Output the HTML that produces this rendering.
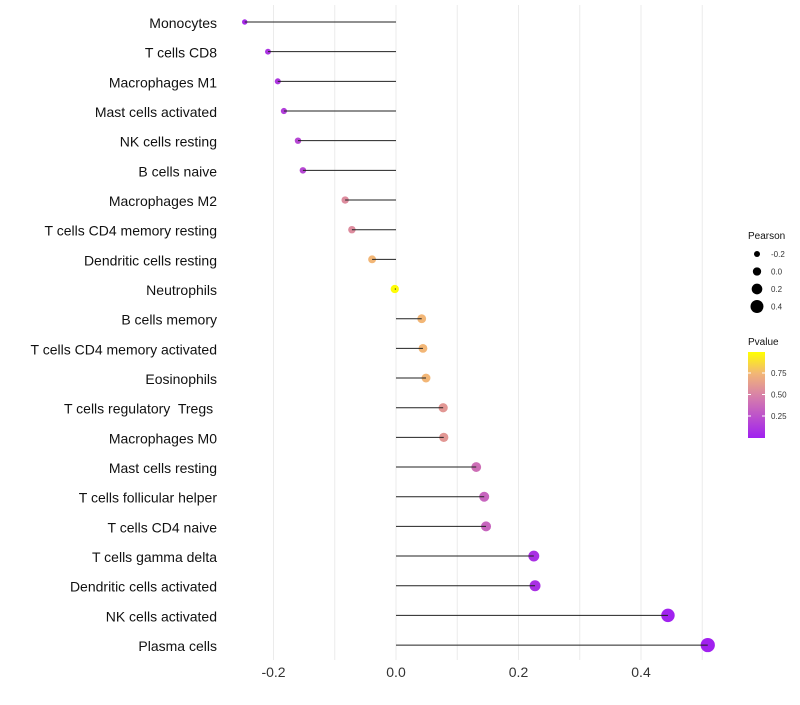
<!DOCTYPE html>
<html><head><meta charset="utf-8"><style>
body{margin:0;background:#fff;font-family:"Liberation Sans",sans-serif}
text{white-space:pre}
</style></head><body>
<svg id="chart" width="800" height="700" xmlns="http://www.w3.org/2000/svg">
<defs><linearGradient id="pg" x1="0" y1="1" x2="0" y2="0">
<stop offset="0" stop-color="#a020f0"/><stop offset="0.5" stop-color="#d882a8"/><stop offset="0.75" stop-color="#f2b676"/><stop offset="1" stop-color="#ffff00"/></linearGradient></defs>
<g id="grid"></g><g id="dots"></g><g id="marks"></g><g id="labels"></g><g id="legend"></g>
</svg>
<script>
const cells=["Monocytes","T cells CD8","Macrophages M1","Mast cells activated","NK cells resting","B cells naive","Macrophages M2","T cells CD4 memory resting","Dendritic cells resting","Neutrophils","B cells memory","T cells CD4 memory activated","Eosinophils","T cells regulatory  Tregs ","Macrophages M0","Mast cells resting","T cells follicular helper","T cells CD4 naive","T cells gamma delta","Dendritic cells activated","NK cells activated","Plasma cells"];
const pearson=[-0.247,-0.209,-0.193,-0.183,-0.160,-0.152,-0.083,-0.072,-0.039,-0.002,0.042,0.044,0.049,0.077,0.078,0.131,0.144,0.147,0.225,0.227,0.444,0.509];
const pvalue=[0.05,0.1,0.12,0.15,0.2,0.2,0.55,0.55,0.75,0.99,0.75,0.75,0.75,0.6,0.6,0.4,0.35,0.35,0.08,0.08,0.01,0.005];
const xTicks=[-0.2,0,0.2,0.4];
const xTickLabels=["-0.2","0.0","0.2","0.4"];
const sizeLegend=[-0.2,0.0,0.2,0.4];
const sizeLegendLabels=["-0.2","0.0","0.2","0.4"];
const pTicks=[0.25,0.5,0.75];
const pTickLabels=["0.25","0.50","0.75"];
const NS="http://www.w3.org/2000/svg";
const x=v=>396+v*612.5;
const y=i=>22+i*29.67;
const r=v=>Math.max(1.5,3+(v+0.2)*5.8);
function lerp(a,b,t){return a.map((c,i)=>Math.round(c+(b[i]-c)*t));}
const stops=[[0,[160,32,240]],[0.5,[216,130,168]],[0.75,[242,182,118]],[1,[255,255,0]]];
function col(p){for(let k=1;k<stops.length;k++){if(p<=stops[k][0]){const t=(p-stops[k-1][0])/(stops[k][0]-stops[k-1][0]);return "rgb("+lerp(stops[k-1][1],stops[k][1],t).join(",")+")";}}return "rgb(255,255,0)";}
function mk(t,a,parent){const e=document.createElementNS(NS,t);for(const k in a)e.setAttribute(k,a[k]);document.getElementById(parent).appendChild(e);return e;}
for(let v=-0.2;v<=0.51;v+=0.1){const g=mk('line',{x1:x(v),x2:x(v),y1:5,y2:660,stroke:'#ebebeb','stroke-width':1},'grid');

}
xTicks.forEach((v,i)=>{const t=mk('text',{x:x(v),y:677,'text-anchor':'middle','font-size':14,fill:'#333'},'labels');t.textContent=xTickLabels[i];

});
cells.forEach((c,i)=>{
const t=mk('text',{x:217,y:y(i)+6,'text-anchor':'end','font-size':14,fill:'#111'},'labels');t.textContent=c;


const d=mk('circle',{cx:x(pearson[i]),cy:y(i),r:r(pearson[i]),fill:col(pvalue[i])},'dots');


const l=mk('line',{x1:x(0),x2:x(pearson[i]),y1:y(i),y2:y(i),stroke:'#222','stroke-width':1},'marks');


});
const lt=mk('text',{x:748,y:239,'font-size':10,fill:'#111'},'legend');lt.textContent='Pearson';


sizeLegend.forEach((v,i)=>{const cy=254+i*17.5;
const c=mk('circle',{cx:757,cy:cy,r:r(v),fill:'#000'},'legend');


const t=mk('text',{x:771,y:cy+3,'font-size':8,fill:'#333'},'legend');t.textContent=sizeLegendLabels[i];

});
const pt=mk('text',{x:748,y:345,'font-size':10,fill:'#111'},'legend');pt.textContent='Pvalue';


const bar=mk('rect',{x:748,y:352,width:17,height:86,fill:'url(#pg)'},'legend');


const py=p=>437.5-p*86;
pTicks.forEach((p,i)=>{
const tk=mk('line',{x1:748,x2:751,y1:py(p),y2:py(p),stroke:'#fff'},'legend');


const tk2=mk('line',{x1:762,x2:765,y1:py(p),y2:py(p),stroke:'#fff'},'legend');


const t=mk('text',{x:771,y:py(p)+3,'font-size':8,fill:'#333'},'legend');t.textContent=pTickLabels[i];

});
</script>
</body></html>
